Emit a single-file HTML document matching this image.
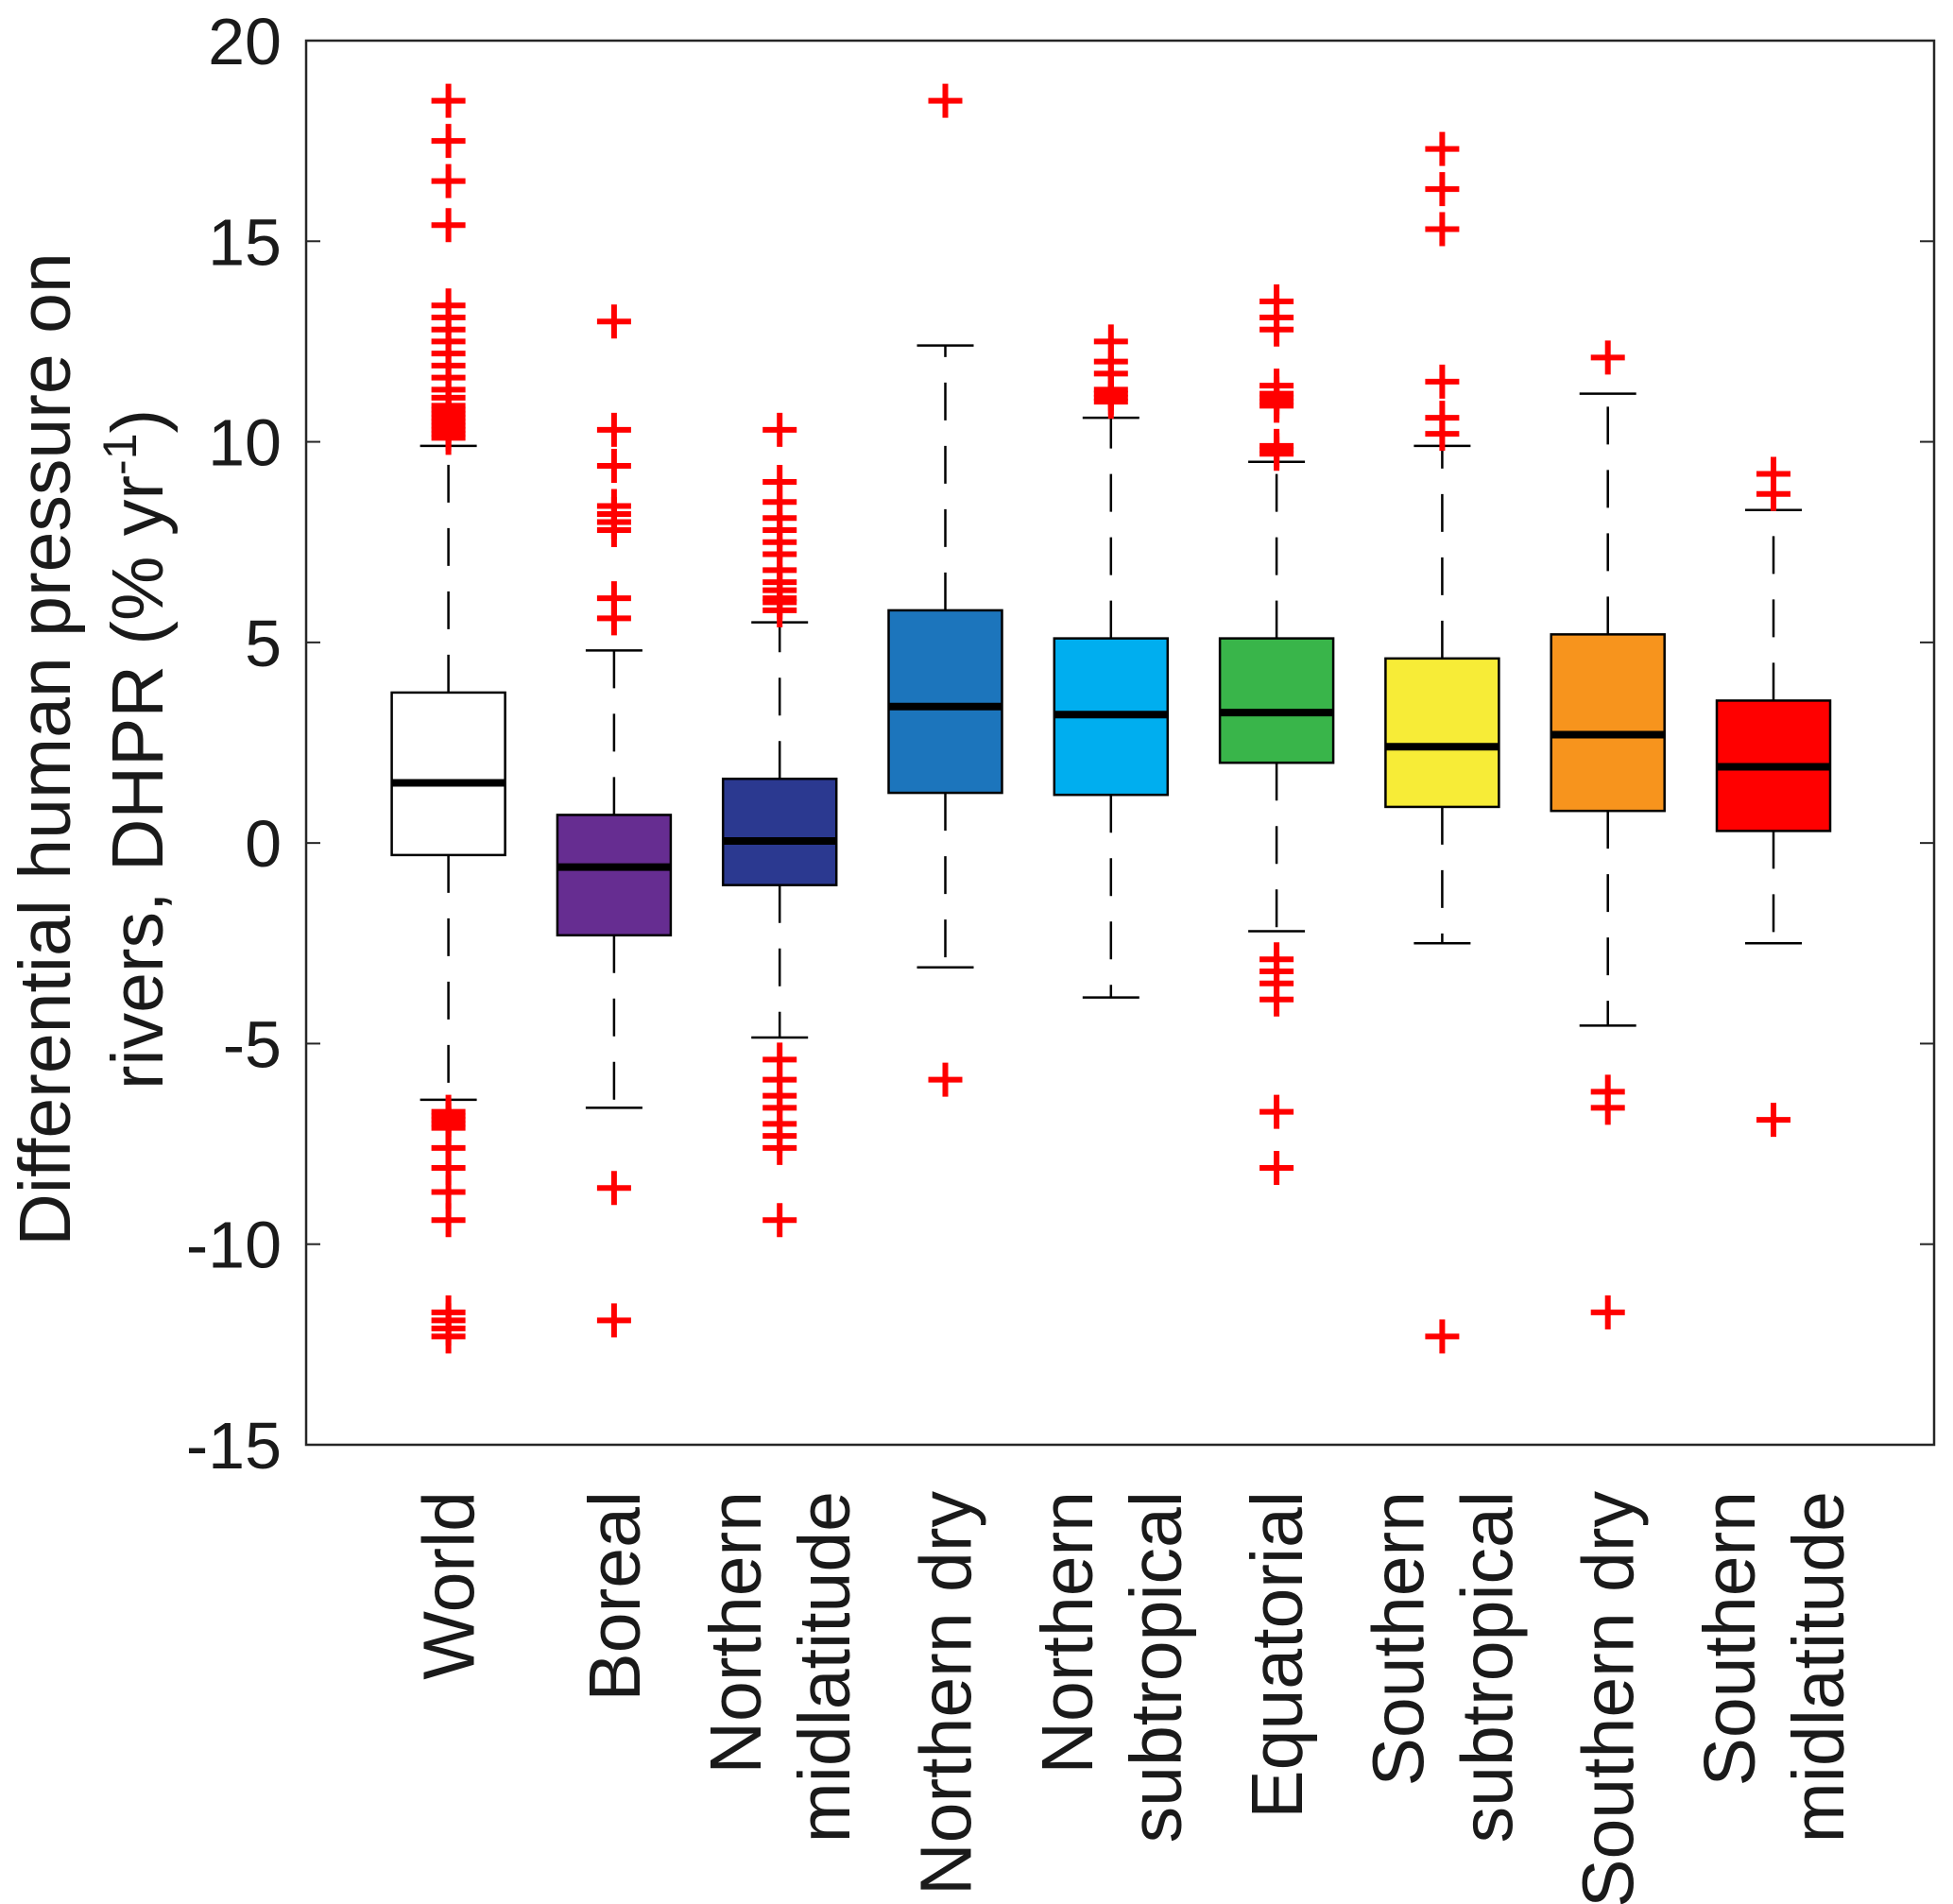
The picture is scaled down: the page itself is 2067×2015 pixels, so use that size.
<!DOCTYPE html>
<html><head><meta charset="utf-8"><style>
html,body{margin:0;padding:0;background:#fff;}
svg{display:block;font-family:"Liberation Sans",Arial,sans-serif;}
</style></head><body>
<svg id="chart" width="2067" height="2015" viewBox="0 0 2067 2015" xmlns="http://www.w3.org/2000/svg">
<rect width="2067" height="2015" fill="#fff"/>
<g id="plot"></g>
<text transform="translate(0,793) rotate(-90)" text-anchor="middle" font-size="77" fill="#1a1a1a"><tspan x="0" y="74">Differential human pressure on</tspan><tspan x="0" y="172">rivers, DHPR (% yr<tspan baseline-shift="super" font-size="50">-1</tspan>)</tspan></text>
</svg>
<script>
const categories=[["World"],["Boreal"],["Northern","midlatitude"],["Northern dry"],["Northern","subtropical"],["Equatorial"],["Southern","subtropical"],["Southern dry"],["Southern","midlatitude"]];
const q1=[-0.3,-2.3,-1.05,1.25,1.2,2.0,0.9,0.8,0.3];
const medians=[1.5,-0.6,0.05,3.4,3.2,3.25,2.4,2.7,1.9];
const q3=[3.75,0.7,1.6,5.8,5.1,5.1,4.6,5.2,3.55];
const whiskerLow=[-6.4,-6.6,-4.85,-3.1,-3.85,-2.2,-2.5,-4.55,-2.5];
const whiskerHigh=[9.9,4.8,5.5,12.4,10.6,9.5,9.9,11.2,8.3];
const outliers=[
[18.5,17.5,16.5,15.4,13.4,13.1,12.8,12.5,12.2,11.9,11.6,11.3,11.1,10.9,10.8,10.7,10.6,10.5,10.4,10.3,10.2,10.1,-6.7,-6.8,-6.9,-7.0,-7.1,-7.6,-8.1,-8.7,-9.4,-11.7,-11.9,-12.1,-12.3],
[13.0,10.3,9.4,8.4,8.2,8.0,7.8,6.1,5.6,-8.6,-11.9],
[10.3,9.0,8.5,8.1,7.8,7.5,7.2,6.8,6.5,6.3,6.1,6.0,5.8,-5.4,-5.9,-6.3,-6.6,-7.0,-7.3,-7.6,-9.4],
[18.5,-5.9],
[12.5,12.0,11.7,11.3,11.2,11.1,11.0],
[13.5,13.1,12.8,11.4,11.2,11.1,11.0,10.9,9.9,9.8,9.7,-2.9,-3.2,-3.5,-3.9,-6.7,-8.1],
[17.3,16.3,15.3,11.5,10.6,10.2,-12.3],
[12.1,-6.2,-6.6,-11.7],
[9.2,8.7,-6.9]];
const yTicks=[20,15,10,5,0,-5,-10,-15];
const fills=["#ffffff","#662d91","#2b3990","#1c75bc","#00aeef","#39b54a","#f7ec37","#f7941d","#ff0000"];

const L=324,R=2047,T=43,B=1529;
const yS=v=>T+(20-v)*(B-T)/35;
const xS=i=>474.6+i*175.3;
const bw=120;
const NS="http://www.w3.org/2000/svg";
const g=document.getElementById('plot');
function mk(tag,attrs,parent){const e=document.createElementNS(NS,tag);for(const k in attrs)e.setAttribute(k,attrs[k]);(parent||g).appendChild(e);return e;}

yTicks.forEach(t=>{
  const y=yS(t);
  const tl=mk('line',{x1:L,x2:L+15,y1:y,y2:y,stroke:'#262626','stroke-width':2});
  
  
  const tr=mk('line',{x1:R-15,x2:R,y1:y,y2:y,stroke:'#262626','stroke-width':2});
  
  
  const tx=mk('text',{x:298,y:y+25,'text-anchor':'end','font-size':70,fill:'#1a1a1a'});
  tx.textContent=t;
  
  
});

categories.forEach((c,i)=>{
  const cx=xS(i);
  const grp=mk('g',{});
  
  
  const dash={stroke:'#000','stroke-width':2.5,'stroke-dasharray':'40,27'};
  mk('line',Object.assign({x1:cx,x2:cx,y1:yS(q3[i]),y2:yS(whiskerHigh[i])},dash),grp);
  mk('line',Object.assign({x1:cx,x2:cx,y1:yS(q1[i]),y2:yS(whiskerLow[i])},dash),grp);
  mk('line',{x1:cx-bw/4,x2:cx+bw/4,y1:yS(whiskerHigh[i]),y2:yS(whiskerHigh[i]),stroke:'#000','stroke-width':2.5},grp);
  mk('line',{x1:cx-bw/4,x2:cx+bw/4,y1:yS(whiskerLow[i]),y2:yS(whiskerLow[i]),stroke:'#000','stroke-width':2.5},grp);
  mk('rect',{x:cx-bw/2,y:yS(q3[i]),width:bw,height:yS(q1[i])-yS(q3[i]),fill:fills[i],stroke:'#000','stroke-width':2.5},grp);
  mk('line',{x1:cx-bw/2,x2:cx+bw/2,y1:yS(medians[i]),y2:yS(medians[i]),stroke:'#000','stroke-width':8},grp);
  outliers[i].forEach(v=>{
    const y=yS(v);
    const p=mk('path',{d:`M${cx-18},${y}H${cx+18}M${cx},${y-18}V${y+18}`,stroke:'#ff0000','stroke-width':6,fill:'none'},grp);
    
    
  });
  const lab=mk('text',{transform:`translate(0,1578) rotate(-90)`,'text-anchor':'end','font-size':77,fill:'#1a1a1a'});
  
  
  if(c.length===1){
    const ts=mk('tspan',{x:0,y:cx+27},lab);ts.textContent=c[0];
  } else {
    const a=mk('tspan',{x:0,y:cx-47+27},lab);a.textContent=c[0];
    const b=mk('tspan',{x:0,y:cx+47+27},lab);b.textContent=c[1];
  }
});

const frame=mk('rect',{x:L,y:T,width:R-L,height:B-T,fill:'none',stroke:'#262626','stroke-width':2.5});


</script>
</body></html>
